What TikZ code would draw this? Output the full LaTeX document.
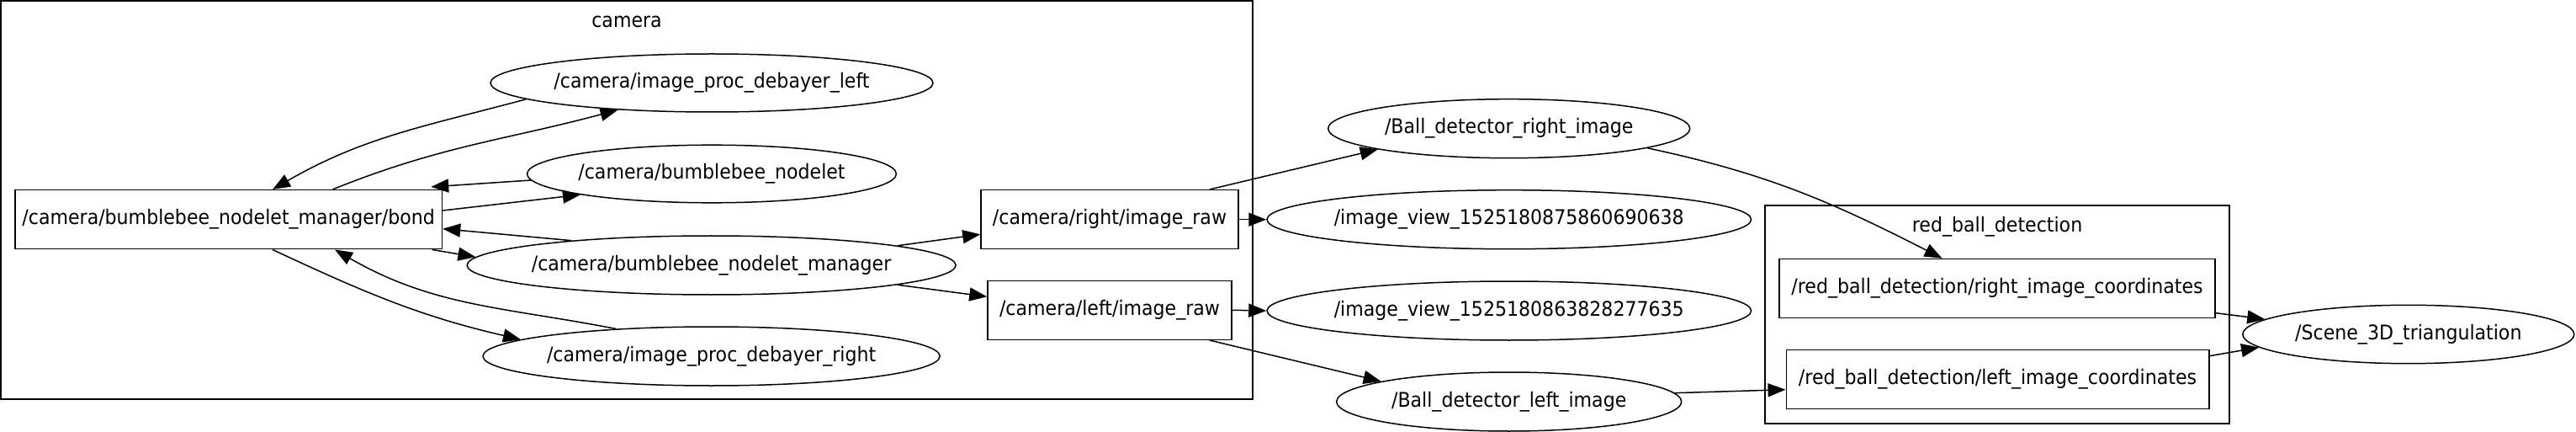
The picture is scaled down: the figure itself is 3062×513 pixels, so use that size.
\documentclass[tikz,border=0pt]{standalone}
\usepackage{fontspec}
\setmainfont{DejaVu Sans}[FakeStretch=0.92]
\usetikzlibrary{shapes.geometric,arrows.meta,calc}
\begin{document}
\begin{tikzpicture}[x=0.5pt,y=0.5pt,
  every node/.style={font=\fontsize{12pt}{14pt}\selectfont},
  topic/.style={draw, line width=0.75pt, rectangle, inner sep=0pt, minimum height=35pt},
  gnode/.style={draw, line width=0.75pt, ellipse, inner sep=0pt, minimum height=35pt},
  cluster/.style={draw, line width=1pt},
  edge/.style={line width=0.75pt, -{Triangle[length=10.5pt,width=8pt]}},
]
\useasboundingbox (0,0) rectangle (3062,-513);

% clusters
\draw[cluster] (1,-1) rectangle (1489,-474);
\node[anchor=base] (camlabel) at (745,-32.3) {camera};
\draw[cluster] (2098,-244.3) rectangle (2650.3,-502.7);
\node[anchor=base] (rblabel) at (2374,-275.3) {red\_ball\_detection};

% nodes
\node[topic, minimum width=253.8pt] (bond) at (271.7,-260.7) {/camera/bumblebee\_nodelet\_manager/bond};
\node[gnode, minimum width=263pt, minimum height=34.5pt] (dbl) at (846,-98.5) {\makebox[0pt]{/camera/image\_proc\_debayer\_left}};
\node[gnode, minimum width=219.4pt, minimum height=34.3pt] (bn) at (846,-206.5) {\makebox[0pt]{/camera/bumblebee\_nodelet}};
\node[gnode, minimum width=290.5pt] (bnm) at (845.6,-315) {\makebox[0pt]{/camera/bumblebee\_nodelet\_manager}};
\node[gnode, minimum width=271.6pt] (dbr) at (845.6,-423) {\makebox[0pt]{/camera/image\_proc\_debayer\_right}};
\node[topic, minimum width=153pt] (rir) at (1319,-260.7) {/camera/right/image\_raw};
\node[topic, minimum width=145pt] (lir) at (1319,-368.3) {/camera/left/image\_raw};
\node[gnode, minimum width=215pt] (bdr) at (1793.7,-152.7) {\makebox[0pt]{/Ball\_detector\_right\_image}};
\node[gnode, minimum width=287.8pt] (iv1) at (1793.8,-260.7) {\makebox[0pt]{/image\_view\_1525180875860690638}};
\node[gnode, minimum width=287.8pt] (iv2) at (1793.8,-369) {\makebox[0pt]{/image\_view\_1525180863828277635}};
\node[gnode, minimum width=205pt] (bdl) at (1793.7,-477) {\makebox[0pt]{/Ball\_detector\_left\_image}};
\node[topic, minimum width=259pt] (ric) at (2374,-342.5) {/red\_ball\_detection/right\_image\_coordinates};
\node[topic, minimum width=251.25pt] (lic) at (2374.5,-450.7) {/red\_ball\_detection/left\_image\_coordinates};
\node[gnode, minimum width=197pt, minimum height=34.7pt] (s3d) at (2862.8,-397) {\makebox[0pt]{/Scene\_3D\_triangulation}};

% edges
\draw[edge] ($(bond.north)+(123.7,0)$) to[out=22,in=195] (dbl.196);
\draw[edge] (dbl.185) to[out=195,in=30] ($(bond.north)+(52.3,0)$);
\draw[edge] (bn.182) -- ($(bond.north east)+(-14,3)$);
\draw[edge] ($(bond.east)+(0,10.7)$) -- (bn.189);
\draw[edge] (bnm.170) -- ($(bond.east)+(0,-11)$);
\draw[edge] ($(bond.south east)+(-12.7,0)$) -- (bnm.178);
\draw[edge] ($(bond.south)+(52.3,0)$) to[out=-25,in=167] (dbr.175);
\draw[edge] (dbr.164) to[out=169,in=-30] ($(bond.south)+(126.3,0)$);
\draw[edge] (bnm.6) -- ($(rir.west)+(0,-17.6)$);
\draw[edge] (bnm.-6) -- ($(lir.west)+(0,16)$);
\draw[edge] (rir.east) -- (iv1.west);
\draw[edge] (lir.east) -- (iv2.west);
\draw[edge] ($(rir.north)+(118.8,0)$) -- (bdr.189);
\draw[edge] ($(lir.south)+(118.8,0)$) -- (bdl.171);
\draw[edge] (bdr.-8) to[out=-12,in=153] ($(ric.north)+(-65.4,0)$);
\draw[edge] (bdl.3) -- ($(lic.west)+(0,-12)$);
\draw[edge] ($(ric.east)+(0,-29.2)$) -- (s3d.174);
\draw[edge] ($(lic.east)+(0,28)$) -- (s3d.185);
\end{tikzpicture}
\end{document}
